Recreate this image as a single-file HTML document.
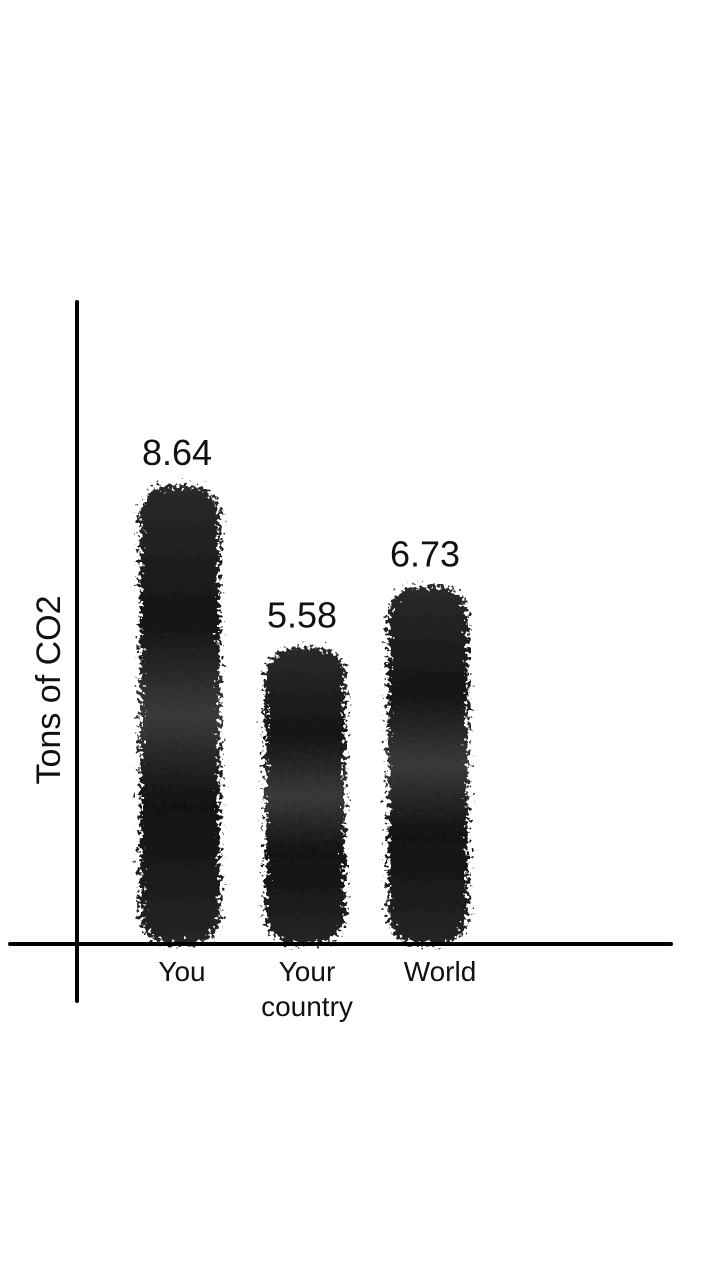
<!DOCTYPE html>
<html><head><meta charset="utf-8"><style>
html,body{margin:0;padding:0;background:#fff;}
svg{display:block;font-family:"Liberation Sans",Roboto,sans-serif;}
</style></head><body>
<svg id="chart" width="720" height="1280" viewBox="0 0 720 1280">
<defs>
<filter id="fuzz" x="-30%" y="-10%" width="160%" height="120%">
<feTurbulence type="fractalNoise" baseFrequency="0.25" numOctaves="3" seed="3" result="n"/>
<feDisplacementMap in="SourceGraphic" in2="n" scale="22" xChannelSelector="R" yChannelSelector="G"/>
</filter>
<linearGradient id="shade" x1="0" y1="0" x2="0" y2="1">
<stop offset="0" stop-color="#2a2a2a"/><stop offset="0.3" stop-color="#151515"/>
<stop offset="0.5" stop-color="#3a3a3a"/><stop offset="0.7" stop-color="#111"/>
<stop offset="1" stop-color="#262626"/>
</linearGradient>
</defs>
<g id="bars"></g>
<line x1="77" y1="302" x2="77" y2="1001" stroke="#000" stroke-width="4" stroke-linecap="round"/>
<line x1="10" y1="944" x2="671" y2="944" stroke="#000" stroke-width="4" stroke-linecap="round"/>
<text transform="translate(60,690) rotate(-90)" text-anchor="middle" font-size="34" fill="#111">Tons of CO2</text>
</svg>
<script>
const categories = ["You", "Your country", "World"];
const values = [8.64, 5.58, 6.73];
const valueLabels = ["8.64", "5.58", "6.73"];
const centers = [180, 305, 428];
const baseY = 944, pxPerUnit = 53.1, barW = 80;
const yScale = v => baseY - v * pxPerUnit;
const NS = "http://www.w3.org/2000/svg";
const g = document.getElementById('bars');
const svg = document.getElementById('chart');
values.forEach((v, i) => {
  const top = yScale(v);
  const r = document.createElementNS(NS, 'rect');
  
  
  r.setAttribute('x', centers[i] - barW / 2);
  r.setAttribute('y', top);
  r.setAttribute('width', barW);
  r.setAttribute('height', baseY - top);
  r.setAttribute('rx', 30);
  r.setAttribute('fill', 'url(#shade)');
  r.setAttribute('filter', 'url(#fuzz)');
  g.appendChild(r);
  const t = document.createElementNS(NS, 'text');
  
  
  t.setAttribute('x', centers[i] - 3);
  t.setAttribute('y', top - 20);
  t.setAttribute('text-anchor', 'middle');
  t.setAttribute('font-size', '36');
  t.setAttribute('fill', '#111');
  t.textContent = valueLabels[i];
  svg.appendChild(t);
  const words = categories[i] === "Your country" ? ["Your", "country"] : [categories[i]];
  words.forEach((w, j) => {
    const c = document.createElementNS(NS, 'text');
    
    
    c.setAttribute('x', centers[i] + (i === 2 ? 12 : 2));
    c.setAttribute('y', 981 + j * 35);
    c.setAttribute('text-anchor', 'middle');
    c.setAttribute('font-size', '28');
    c.setAttribute('fill', '#111');
    c.textContent = w;
    svg.appendChild(c);
  });
});
</script>
</body></html>
